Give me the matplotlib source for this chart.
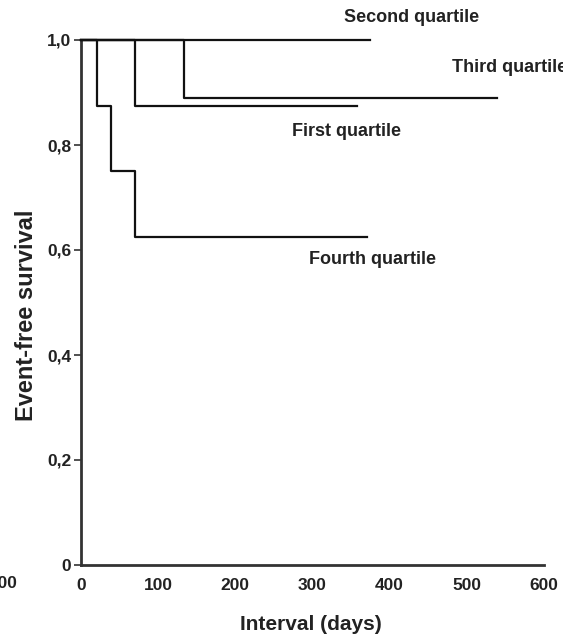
import matplotlib
matplotlib.use("Agg")
import matplotlib.pyplot as plt

# Kaplan-Meier step data (days, survival)
first_t = [0, 70, 358]
first_s = [1.0, 0.875, 0.875]
second_t = [0, 375]
second_s = [1.0, 1.0]
third_t = [0, 133, 539]
third_s = [1.0, 0.889, 0.889]
fourth_t = [0, 21, 39, 70, 371]
fourth_s = [1.0, 0.875, 0.75, 0.625, 0.625]

labels = ["First quartile", "Second quartile", "Third quartile", "Fourth quartile"]
label_x = [273, 341, 481, 295]
label_y = [0.825, 1.042, 0.947, 0.581]

xticks = [0, 100, 200, 300, 400, 500, 600]
yticks = [0, 0.2, 0.4, 0.6, 0.8, 1.0]
ytick_labels = ["0", "0,2", "0,4", "0,6", "0,8", "1,0"]

FAM = ["Liberation Sans", "DejaVu Sans"]
plt.rcParams['font.family'] = FAM

W, H = 563, 641
fig = plt.figure(figsize=(W / 100, H / 100), dpi=100)
ax = fig.add_axes([81 / W, (H - 565) / H, (544 - 81) / W, (565 - 40) / H])

for t, s in [(first_t, first_s), (second_t, second_s), (third_t, third_s), (fourth_t, fourth_s)]:
    ax.step(t, s, where='post', color='#111111', lw=1.6, clip_on=False, zorder=3)

for lab, lx, ly in zip(labels, label_x, label_y):
    ax.text(lx, ly, lab, fontsize=13, fontweight='bold', color='#222222',
            ha='left', va='center', clip_on=False)

ax.set_xlim(0, 600)
ax.set_ylim(0, 1.0)
ax.set_xticks(xticks)
ax.set_xticklabels([str(v) for v in xticks])
ax.set_yticks(yticks)
ax.set_yticklabels(ytick_labels)

for side in ['top', 'right']:
    ax.spines[side].set_visible(False)
for side in ['left', 'bottom']:
    ax.spines[side].set_linewidth(2.0)
    ax.spines[side].set_color('#333333')

ax.tick_params(axis='x', length=0, pad=9, labelsize=12.5, labelcolor='#222222')
ax.tick_params(axis='y', length=5, width=1.2, pad=2, labelsize=12.5, labelcolor='#222222', color='#333333')
for lbl in ax.get_xticklabels() + ax.get_yticklabels():
    lbl.set_fontweight('bold')

ax.set_xlabel("Interval (days)", fontsize=15, fontweight='bold', color='#222222', va='center')
ax.xaxis.set_label_coords((311 - 81) / 463, (565 - 624) / 525)
ax.set_ylabel("Event-free survival", fontsize=17, fontweight='bold', color='#222222', va='center')
ax.yaxis.set_label_coords((27 - 81) / 463, (565 - 315) / 525)

# cropped remnant of neighbouring panel's tick label
fig.text(17 / W, 1 - 583 / H, "600", fontsize=12.5, fontweight='bold', color='#222222',
         ha='right', va='center')

fig.savefig("out.png", dpi=100)
